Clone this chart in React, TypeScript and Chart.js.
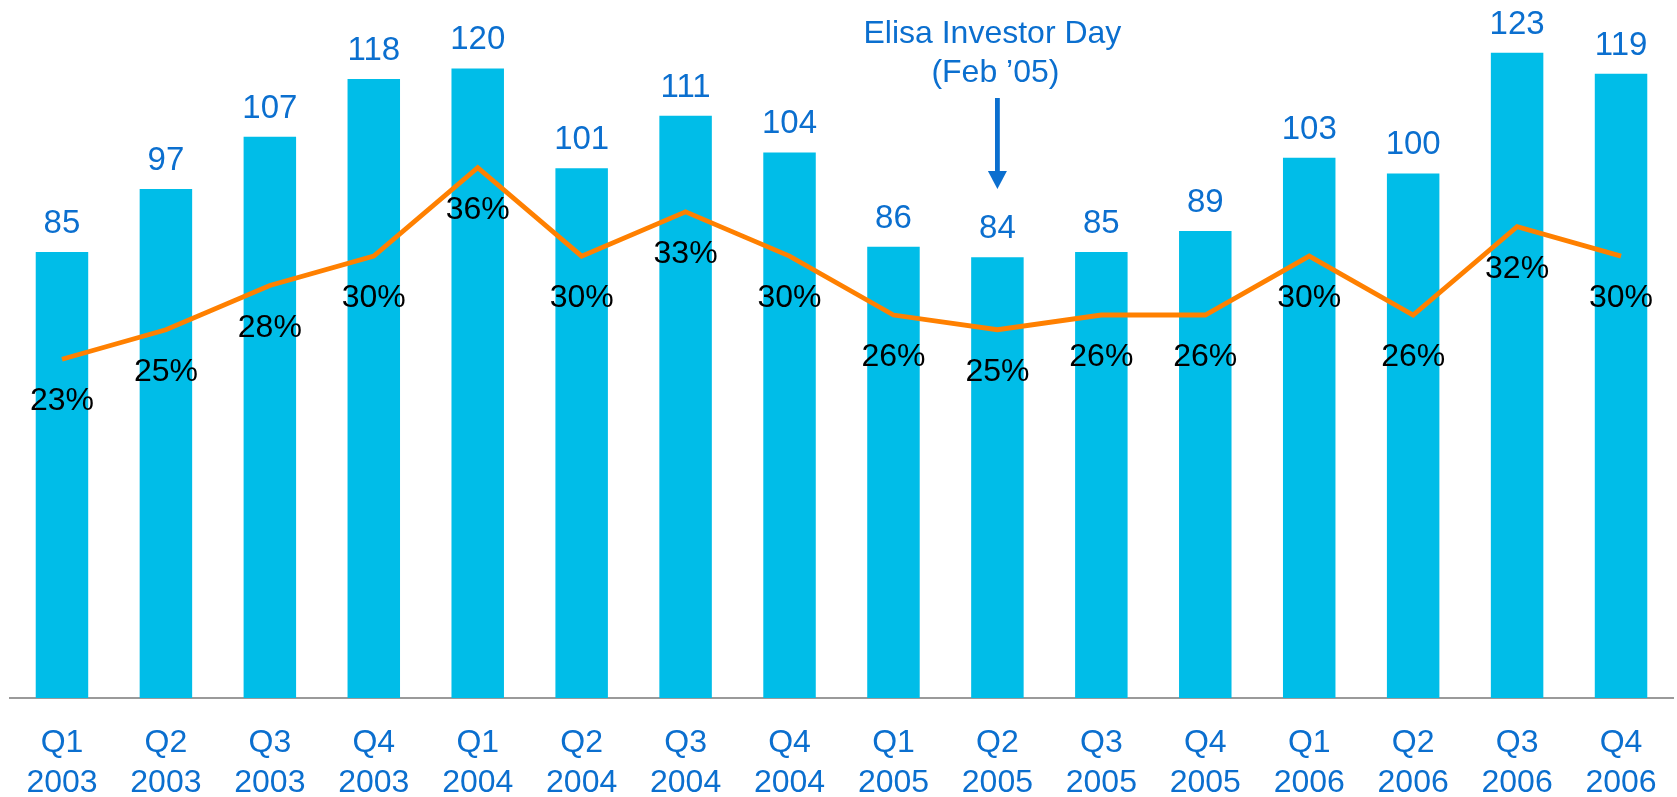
import React, { useEffect, useRef } from "react";
import { Chart, registerables } from "chart.js";

Chart.register(...registerables);

const quarters = ["Q1", "Q2", "Q3", "Q4", "Q1", "Q2", "Q3", "Q4", "Q1", "Q2", "Q3", "Q4", "Q1", "Q2", "Q3", "Q4"];
const years = ["2003", "2003", "2003", "2003", "2004", "2004", "2004", "2004", "2005", "2005", "2005", "2005", "2006", "2006", "2006", "2006"];
const revenue = [85, 97, 107, 118, 120, 101, 111, 104, 86, 84, 85, 89, 103, 100, 123, 119];
const marginPct = [23, 25, 28, 30, 36, 30, 33, 30, 26, 25, 26, 26, 30, 26, 32, 30];
const annotationLines = ["Elisa Investor Day", "(Feb \u201905)"];
const annotationIndex = 9;

const FONT = "'Liberation Sans', Arial, Helvetica, sans-serif";
const BLUE = "#0B6FCF";
const CYAN = "#00BDE8";
const ORANGE = "#FF8000";

const labelPlugin = {
  id: "valueLabels",
  afterDatasetsDraw(chart: any) {
    const ctx = chart.ctx;
    const lineMeta = chart.getDatasetMeta(0);
    const barMeta = chart.getDatasetMeta(1);
    ctx.save();
    ctx.textAlign = "center";
    ctx.textBaseline = "alphabetic";
    ctx.font = `33px ${FONT}`;
    ctx.fillStyle = BLUE;
    barMeta.data.forEach((el: any, i: number) => {
      ctx.fillText(String(revenue[i]), el.x, el.y - 19);
    });
    ctx.font = `32px ${FONT}`;
    ctx.fillStyle = "#000000";
    lineMeta.data.forEach((el: any, i: number) => {
      ctx.fillText(marginPct[i] + "%", el.x, el.y + 51);
    });

    // annotation
    const top = chart.chartArea.top;
    const x = chart.scales.x.getPixelForValue(annotationIndex);
    ctx.fillStyle = BLUE;
    ctx.font = `32px ${FONT}`;
    ctx.fillText(annotationLines[0], x - 5, top + 27);
    ctx.fillText(annotationLines[1], x - 2, top + 66);
    ctx.fillRect(x - 2.4, top + 82, 4.8, 74);
    ctx.beginPath();
    ctx.moveTo(x - 9.5, top + 155);
    ctx.lineTo(x + 9.5, top + 155);
    ctx.lineTo(x, top + 173);
    ctx.closePath();
    ctx.fill();
    ctx.restore();
  },
};

export default function App() {
  const ref = useRef<HTMLCanvasElement | null>(null);

  useEffect(() => {
    document.body.style.margin = "0";
    document.body.style.overflow = "hidden";
    if (!ref.current) return;
    const labels = quarters.map((q, i) => [q, years[i]]);
    const chart = new Chart(ref.current, {
      type: "bar",
      data: {
        labels,
        datasets: [
          {
            type: "line",
            data: marginPct,
            yAxisID: "y1",
            borderColor: ORANGE,
            borderWidth: 4.8,
            pointRadius: 0,
            pointHoverRadius: 0,
            tension: 0,
            fill: false,
            borderJoinStyle: "miter",
            borderCapStyle: "butt",
            order: 0,
          } as any,
          {
            type: "bar",
            data: revenue,
            yAxisID: "y",
            backgroundColor: CYAN,
            borderWidth: 0,
            categoryPercentage: 1,
            barPercentage: 0.505,
            order: 1,
          } as any,
        ],
      },
      options: {
        responsive: false,
        animation: false,
        layout: { padding: { left: 10, right: 4, top: 16, bottom: -6 } },
        plugins: {
          legend: { display: false },
          tooltip: { enabled: false },
          title: { display: false },
        },
        scales: {
          x: {
            type: "category",
            offset: true,
            grid: { display: false, drawTicks: true, tickLength: 25 },
            border: { display: true, color: "#9A9A9A", width: 2 },
            ticks: {
              padding: 0,
              color: BLUE,
              maxRotation: 0,
              autoSkip: false,
              font: { family: FONT, size: 32, lineHeight: 40 / 32 },
            },
          },
          y: { display: false, min: 0, max: 130 },
          y1: { display: false, min: 0, max: 46.3 },
        },
      },
      plugins: [labelPlugin],
    });
    return () => chart.destroy();
  }, []);

  return <canvas ref={ref} width={1677} height={797} style={{ display: "block" }} />;
}
